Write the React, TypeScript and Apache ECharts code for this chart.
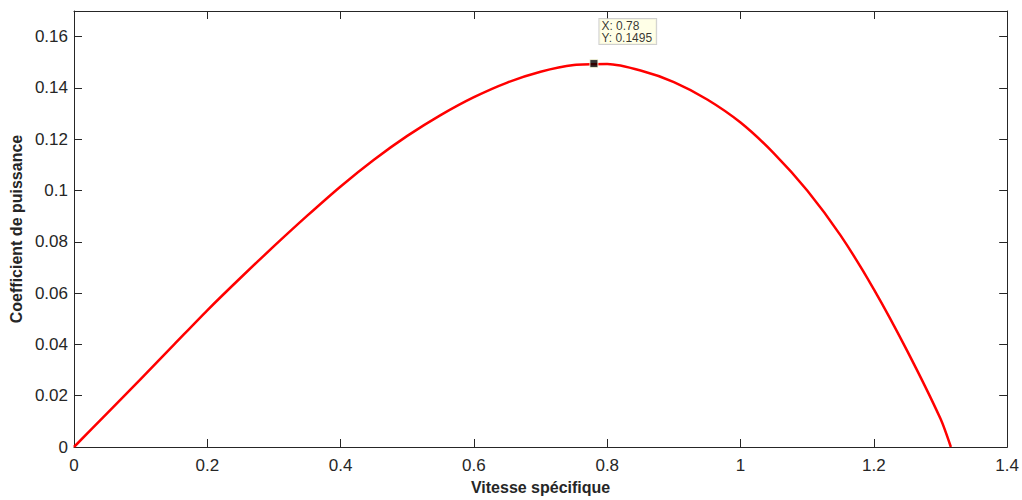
import React, { useEffect, useRef } from "react";
import * as echarts from "echarts";

const xValues = [0, 0.05, 0.1, 0.15, 0.2, 0.25, 0.3, 0.35, 0.4, 0.45, 0.5, 0.55, 0.6, 0.65, 0.7, 0.75, 0.8, 0.85, 0.9, 0.95, 1.0, 1.05, 1.1, 1.15, 1.2, 1.25, 1.3, 1.3155];
const cpValues = [0, 0.0132, 0.0265, 0.0399, 0.0533, 0.066, 0.0783, 0.0902, 0.1016, 0.112, 0.1213, 0.1294, 0.1364, 0.1421, 0.1463, 0.1489, 0.1493, 0.1468, 0.1423, 0.1355, 0.1265, 0.1145, 0.1, 0.0825, 0.0615, 0.0375, 0.011, 0];
const tipX = 0.78;
const tipY = 0.1495;
const xName = "Vitesse spécifique";
const yName = "Coefficient de puissance";

const FONT = "'Liberation Sans', Arial, Helvetica, sans-serif";
const AXIS_COLOR = "#262626";

export default function App() {
  const ref = useRef<HTMLDivElement>(null);
  useEffect(() => {
    if (!ref.current) return;
    const chart = echarts.init(ref.current, undefined, { renderer: "svg" });
    const baseAxis = {
      axisLine: { show: true, onZero: false, lineStyle: { color: AXIS_COLOR, width: 1 } },
      axisTick: { show: true, inside: true, length: 8, lineStyle: { color: AXIS_COLOR } },
      splitLine: { show: false },
    };
    chart.setOption({
      animation: false,
      backgroundColor: "#ffffff",
      grid: { left: 72, top: 11, right: 13, bottom: 52, containLabel: false },
      xAxis: [
        {
          ...baseAxis,
          type: "value",
          min: 0,
          max: 1.4,
          interval: 0.2,
          name: xName,
          nameLocation: "middle",
          nameGap: 32,
          nameTextStyle: { fontFamily: FONT, fontSize: 16, fontWeight: "bold", color: AXIS_COLOR },
          axisLabel: { fontFamily: FONT, fontSize: 17, color: AXIS_COLOR, margin: 10 },
        },
        {
          ...baseAxis,
          type: "value",
          position: "top",
          min: 0,
          max: 1.4,
          interval: 0.2,
          axisLabel: { show: false },
        },
      ],
      yAxis: [
        {
          ...baseAxis,
          type: "value",
          min: 0,
          max: 0.17,
          interval: 0.02,
          name: yName,
          nameLocation: "middle",
          nameGap: 43,
          nameRotate: 90,
          nameTextStyle: { fontFamily: FONT, fontSize: 16, fontWeight: "bold", color: AXIS_COLOR },
          axisLabel: { fontFamily: FONT, fontSize: 17, color: AXIS_COLOR, margin: 6, showMaxLabel: false },
        },
        {
          ...baseAxis,
          type: "value",
          position: "right",
          min: 0,
          max: 0.17,
          interval: 0.02,
          axisLabel: { show: false },
        },
      ],
      series: [
        {
          type: "line",
          data: xValues.map((x, i) => [x, cpValues[i]]),
          showSymbol: false,
          smooth: 0.25,
          lineStyle: { color: "#ff0000", width: 2.5 },
          z: 2,
        },
        {
          type: "scatter",
          data: [[tipX, tipY]],
          symbol: "rect",
          symbolSize: 8,
          itemStyle: { color: "#000000", borderColor: "#ffffe1", borderWidth: 1 },
          z: 3,
          label: {
            show: true,
            position: [10, -40],
            formatter: () => `X: ${tipX}\nY: ${tipY}`,
            fontFamily: FONT,
            fontSize: 12,
            lineHeight: 12,
            color: "#000000",
            backgroundColor: "#ffffe1",
            borderColor: "#c4c4c4",
            borderWidth: 1,
            padding: [1, 4, 0, 2],
            align: "left",
            verticalAlign: "top",
          },
        },
      ],
    });
    return () => chart.dispose();
  }, []);
  return <div ref={ref} style={{ width: 1022, height: 500, position: "absolute", left: 0, top: 0 }} />;
}
